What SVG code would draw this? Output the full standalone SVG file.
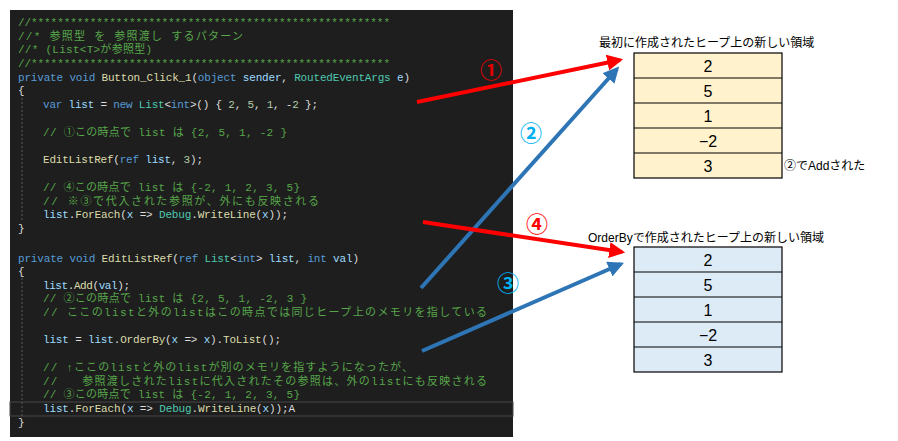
<svg xmlns="http://www.w3.org/2000/svg" width="898" height="441" viewBox="0 0 898 441">
<style>
.code{font-family:"Liberation Mono","Noto Sans CJK JP",monospace;font-size:11px;fill:#dcdcdc;white-space:pre}
.c{fill:#57a64a}.k{fill:#569cd6}.m{fill:#dcdcaa}.t{fill:#4ec9b0}.n{fill:#b5cea8}.v{fill:#9cdcfe}
.lbl{font-family:"Liberation Sans","Noto Sans CJK JP",sans-serif;font-size:12px;fill:#000}
.cell{font-family:"Liberation Sans","Noto Sans CJK JP",sans-serif;font-size:16px;fill:#000;text-anchor:middle}
.num{font-family:"Liberation Sans","Noto Sans CJK JP",sans-serif;font-size:22px;font-weight:bold;text-anchor:middle}
.row{stroke:#000;stroke-width:1.2}
</style>
<defs>
<marker id="ar" viewBox="0 0 10 10" refX="8" refY="5" markerWidth="4" markerHeight="4" orient="auto"><path d="M0,0L10,5L0,10z" fill="#ff0000"/></marker>
<marker id="ab" viewBox="0 0 10 10" refX="8" refY="5" markerWidth="4" markerHeight="4" orient="auto"><path d="M0,0L10,5L0,10z" fill="#2e75b6"/></marker>
</defs>
<rect width="898" height="441" fill="#fff"/>
<g id="code">
<rect x="10" y="10" width="503" height="427" fill="#1e1e1e"/>
<rect x="10" y="402" width="503" height="14" fill="none" stroke="#464646" stroke-width="1"/>
<line x1="22" y1="98" x2="22" y2="222" stroke="#5a5a5a" stroke-dasharray="2,2"/>
<line x1="22" y1="278" x2="22" y2="416" stroke="#5a5a5a" stroke-dasharray="2,2"/>
<text class="code" x="18" y="26" textLength="372" lengthAdjust="spacing"><tspan class="c">//*******************************************************</tspan></text>
<text class="code" x="18" y="40" textLength="225" lengthAdjust="spacing"><tspan class="c">//* 参照型 を 参照渡し するパターン</tspan></text>
<text class="code" x="18" y="53" textLength="134" lengthAdjust="spacing"><tspan class="c">//* (List&lt;T&gt;が参照型)</tspan></text>
<text class="code" x="18" y="67" textLength="372" lengthAdjust="spacing"><tspan class="c">//*******************************************************</tspan></text>
<text class="code" x="18" y="81" textLength="392" lengthAdjust="spacing"><tspan class="k">private void </tspan><tspan class="m">Button_Click_1</tspan>(<tspan class="k">object </tspan><tspan class="v">sender</tspan>, <tspan class="t">RoutedEventArgs </tspan><tspan class="v">e</tspan>)</text>
<text class="code" x="18" y="94">{</text>
<text class="code" x="43" y="108" textLength="275" lengthAdjust="spacing"><tspan class="k">var </tspan><tspan class="v">list</tspan> = <tspan class="k">new </tspan><tspan class="t">List</tspan>&lt;<tspan class="k">int</tspan>&gt;() { <tspan class="n">2</tspan>, <tspan class="n">5</tspan>, <tspan class="n">1</tspan>, -<tspan class="n">2</tspan> };</text>
<text class="code" x="43" y="136" textLength="244" lengthAdjust="spacing"><tspan class="c">// ①この時点で list は {2, 5, 1, -2 }</tspan></text>
<text class="code" x="43" y="163" textLength="160" lengthAdjust="spacing"><tspan class="m">EditListRef</tspan>(<tspan class="k">ref </tspan><tspan class="v">list</tspan>, <tspan class="n">3</tspan>);</text>
<text class="code" x="43" y="191" textLength="257" lengthAdjust="spacing"><tspan class="c">// ④この時点で list は {-2, 1, 2, 3, 5}</tspan></text>
<text class="code" x="43" y="205" textLength="276" lengthAdjust="spacing"><tspan class="c">// ※③で代入された参照が、外にも反映される</tspan></text>
<text class="code" x="43" y="218" textLength="245" lengthAdjust="spacing"><tspan class="v">list</tspan>.<tspan class="m">ForEach</tspan>(<tspan class="v">x</tspan> =&gt; <tspan class="t">Debug</tspan>.<tspan class="m">WriteLine</tspan>(<tspan class="v">x</tspan>));</text>
<text class="code" x="18" y="232">}</text>
<text class="code" x="18" y="262" textLength="341" lengthAdjust="spacing"><tspan class="k">private void </tspan><tspan class="m">EditListRef</tspan>(<tspan class="k">ref </tspan><tspan class="t">List</tspan>&lt;<tspan class="k">int</tspan>&gt; <tspan class="v">list</tspan>, <tspan class="k">int </tspan><tspan class="v">val</tspan>)</text>
<text class="code" x="18" y="275">{</text>
<text class="code" x="43" y="289" textLength="87" lengthAdjust="spacing"><tspan class="v">list</tspan>.<tspan class="m">Add</tspan>(<tspan class="v">val</tspan>);</text>
<text class="code" x="43" y="302" textLength="264" lengthAdjust="spacing"><tspan class="c">// ②この時点で list は {2, 5, 1, -2, 3 }</tspan></text>
<text class="code" x="43" y="316" textLength="444" lengthAdjust="spacing"><tspan class="c">// ここのlistと外のlistはこの時点では同じヒープ上のメモリを指している</tspan></text>
<text class="code" x="43" y="343" textLength="238" lengthAdjust="spacing"><tspan class="v">list</tspan> = <tspan class="v">list</tspan>.<tspan class="m">OrderBy</tspan>(<tspan class="v">x</tspan> =&gt; <tspan class="v">x</tspan>).<tspan class="m">ToList</tspan>();</text>
<text class="code" x="43" y="371" textLength="370" lengthAdjust="spacing"><tspan class="c">// ↑ここのlistと外のlistが別のメモリを指すようになったが、</tspan></text>
<text class="code" x="43" y="385" textLength="444" lengthAdjust="spacing"><tspan class="c">//   参照渡しされたlistに代入されたその参照は、外のlistにも反映される</tspan></text>
<text class="code" x="43" y="398" textLength="257" lengthAdjust="spacing"><tspan class="c">// ③この時点で list は {-2, 1, 2, 3, 5}</tspan></text>
<text class="code" x="43" y="412" textLength="252" lengthAdjust="spacing"><tspan class="v">list</tspan>.<tspan class="m">ForEach</tspan>(<tspan class="v">x</tspan> =&gt; <tspan class="t">Debug</tspan>.<tspan class="m">WriteLine</tspan>(<tspan class="v">x</tspan>));A</text>
<text class="code" x="18" y="426">}</text>
</g>
<g id="heap1">
<text class="lbl" x="599" y="47">最初に作成されたヒープ上の新しい領域</text>
<rect x="634" y="53" width="148" height="125" fill="#fff2cc" class="row"/>
<line class="row" x1="634" y1="78" x2="782" y2="78"/><line class="row" x1="634" y1="103" x2="782" y2="103"/><line class="row" x1="634" y1="128" x2="782" y2="128"/><line class="row" x1="634" y1="153" x2="782" y2="153"/>
<text class="cell" x="708" y="72">2</text><text class="cell" x="708" y="97">5</text><text class="cell" x="708" y="122">1</text><text class="cell" x="708" y="147">−2</text><text class="cell" x="708" y="172">3</text>
<text class="lbl" x="784" y="170">②でAddされた</text>
</g>
<g id="heap2">
<text class="lbl" x="588" y="242">OrderByで作成されたヒープ上の新しい領域</text>
<rect x="634" y="247" width="148" height="125" fill="#ddebf7" class="row"/>
<line class="row" x1="634" y1="272" x2="782" y2="272"/><line class="row" x1="634" y1="297" x2="782" y2="297"/><line class="row" x1="634" y1="322" x2="782" y2="322"/><line class="row" x1="634" y1="347" x2="782" y2="347"/>
<text class="cell" x="708" y="266">2</text><text class="cell" x="708" y="291">5</text><text class="cell" x="708" y="316">1</text><text class="cell" x="708" y="341">−2</text><text class="cell" x="708" y="366">3</text>
</g>
<g id="connectors" stroke-width="4" fill="none">
<line x1="417" y1="102" x2="620" y2="60" stroke="#ff0000" marker-end="url(#ar)"/>
<line x1="421" y1="288" x2="617" y2="69" stroke="#2e75b6" marker-end="url(#ab)"/>
<line x1="423" y1="222" x2="622" y2="252" stroke="#ff0000" marker-end="url(#ar)"/>
<line x1="422" y1="351" x2="621" y2="264" stroke="#2e75b6" marker-end="url(#ab)"/>
</g>
<g id="labels">
<text class="num" x="491" y="78" fill="#e00000">①</text>
<text class="num" x="531" y="141" fill="#00b0f0">②</text>
<text class="num" x="537" y="232" fill="#ff0000">④</text>
<text class="num" x="508" y="291" fill="#00b0f0">③</text>
</g>
</svg>
